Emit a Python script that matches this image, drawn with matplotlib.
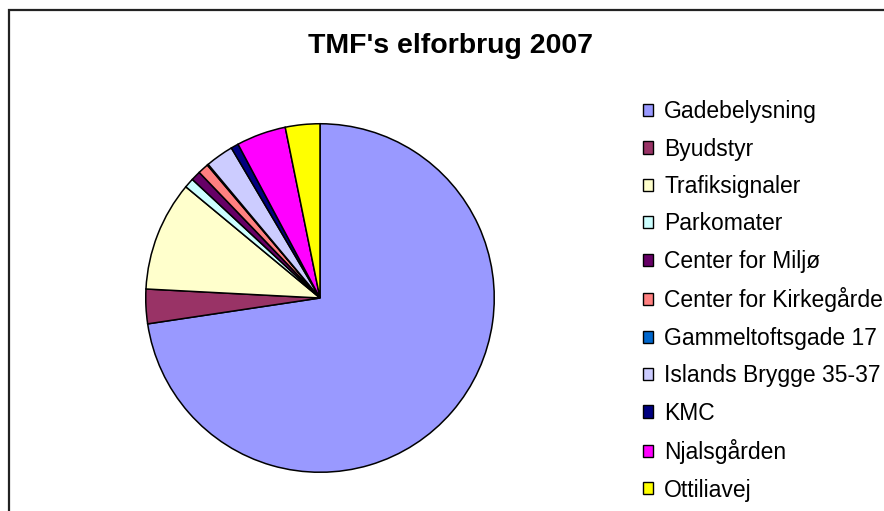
import matplotlib
matplotlib.use("Agg")
import matplotlib.pyplot as plt
from matplotlib.patches import Rectangle, Patch

labels = ['Gadebelysning', 'Byudstyr', 'Trafiksignaler', 'Parkomater', 'Center for Miljø',
          'Center for Kirkegårde', 'Gammeltoftsgade 17', 'Islands Brygge 35-37', 'KMC',
          'Njalsgården', 'Ottiliavej']
values = [72.7, 3.2, 10.2, 0.9, 0.9, 1.0, 0.1, 2.6, 0.7, 4.6, 3.2]
colors = ['#9999FF', '#993366', '#FFFFCC', '#CCFFFF', '#660066', '#FF8080',
          '#0066CC', '#CCCCFF', '#000080', '#FF00FF', '#FFFF00']

plt.rcParams['font.family'] = ['Liberation Sans', 'DejaVu Sans']

W, H = 884, 511
fig = plt.figure(figsize=(W / 100, H / 100), dpi=100)

# chart frame (runs off the right and bottom edges)
fig.patches.append(Rectangle((8.5 / W, -0.1), 1.2, 1 - 9.5 / H + 0.1, transform=fig.transFigure,
                             fill=False, edgecolor='#222222', linewidth=1.6))

cx, cy, r = 320, 298, 176
ax = fig.add_axes([(cx - r) / W, (H - cy - r) / H, 2 * r / W, 2 * r / H])
ax.pie(values, colors=colors, startangle=90, counterclock=False, radius=1,
       wedgeprops=dict(edgecolor='black', linewidth=1.1))
ax.set_xlim(-1.01, 1.01)
ax.set_ylim(-1.01, 1.01)
ax.set_aspect('equal')
ax.axis('off')

fig.text(451 / W, 1 - 46 / H, "TMF's elforbrug 2007", ha='center', va='center',
         fontsize=20.5, fontweight='bold')

handles = [Patch(facecolor=c, edgecolor='black', linewidth=1.0) for c in colors]
fig.legend(handles, labels, loc='upper left', bbox_to_anchor=(634 / W, 1 - 91 / H),
           frameon=False, fontsize=16.5, handlelength=0.44, handleheight=0.44,
           handletextpad=0.48, labelspacing=0.63, borderaxespad=0)

fig.savefig('out.png', dpi=100, facecolor='white')
